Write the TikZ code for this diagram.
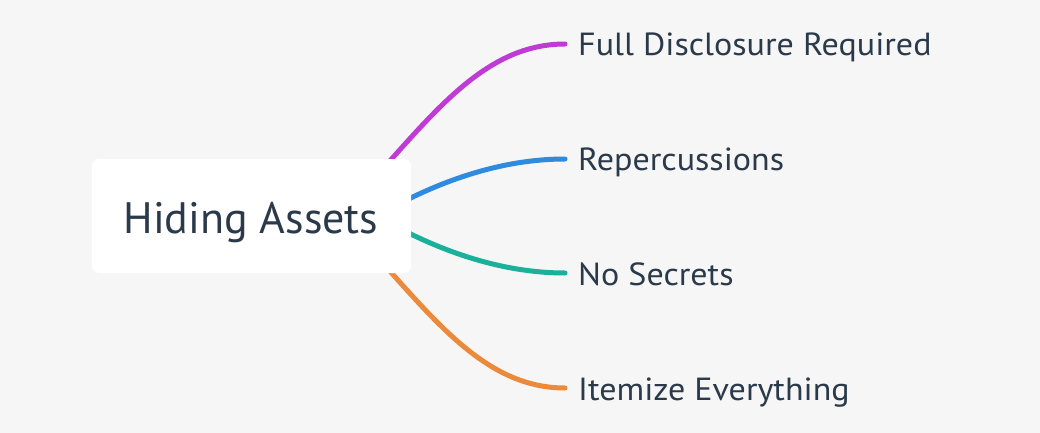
\documentclass[tikz,border=0pt]{standalone}
\usepackage{fontspec}
\setmainfont{PT Sans}
\newfontfamily\leaffont[FakeStretch=1.064]{PT Sans}
\definecolor{bg}{HTML}{F6F6F6}
\definecolor{txt}{HTML}{2B3A4A}
\definecolor{cmag}{HTML}{C03AD5}
\definecolor{cblue}{HTML}{2E8BDF}
\definecolor{cteal}{HTML}{1AB19A}
\definecolor{corange}{HTML}{EC8A3B}
\tikzset{
  branch/.style={line width=5pt, line cap=round},
  rootbox/.style={fill=white, rounded corners=7pt, minimum width=319pt, minimum height=114pt, inner sep=0pt},
  roottext/.style={text=txt, font=\fontsize{44}{50}\selectfont, inner sep=0pt, anchor=base},
  leaf/.style={text=txt, font=\leaffont\fontsize{32}{36}\selectfont, inner sep=0pt, anchor=base west},
}
\begin{document}
\begin{tikzpicture}[x=1pt,y=-1pt]
\fill[bg] (0,0) rectangle (1040,433);
\useasboundingbox (0,0) rectangle (1040,433);
% connector ends
\coordinate (m0) at (380,172);
\coordinate (m1) at (565,44);
\coordinate (b0) at (395,206);
\coordinate (b1) at (565,159);
\coordinate (t0) at (395,226);
\coordinate (t1) at (565,273);
\coordinate (o0) at (380,260);
\coordinate (o1) at (565,388);
\draw[branch, cmag] (m0) .. controls (440,105) and (490,44) .. (m1);
\draw[branch, cblue] (b0) .. controls (440,182) and (500,159) .. (b1);
\draw[branch, cteal] (t0) .. controls (440,250) and (500,273) .. (t1);
\draw[branch, corange] (o0) .. controls (440,327) and (490,388) .. (o1);
\node[rootbox] (root) at (251.5,216) {};
\node[roottext] (rootlabel) at (251,233) {Hiding Assets};
\node[leaf] (l1) at (578,56) {Full Disclosure Required};
\node[leaf] (l2) at (578,170) {Repercussions};
\node[leaf] (l3) at (578,285) {No Secrets};
\node[leaf] (l4) at (578,400) {Itemize Everything};
\end{tikzpicture}
\end{document}
